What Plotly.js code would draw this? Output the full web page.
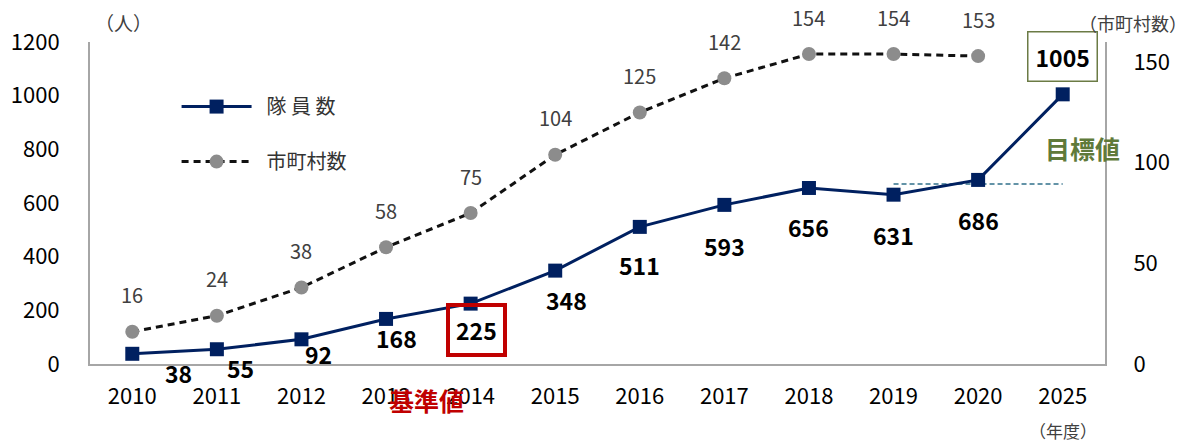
<!DOCTYPE html>
<html><head><meta charset="utf-8">
<script src="https://cdn.plot.ly/plotly-3.0.1.min.js"></script>
<style>body{margin:0;background:#fff}#c{width:1188px;height:442px}</style>
</head><body><div id="c"></div>
<script>
const years = ['2010','2011','2012','2013','2014','2015','2016','2017','2018','2019','2020','2025'];
const members = [38, 55, 92, 168, 225, 348, 511, 593, 656, 631, 686, 1005];
const municipalities = [16, 24, 38, 58, 75, 104, 125, 142, 154, 154, 153, null];
const targetLineValue = 671;

const memberShiftX = [46, 24, 17, 10, 6, 11, 0, 0, 0, 0, 0, 0];
const memberShiftY = [-19, -19, -15, -19, -26, -29, -38, -41, -39, -40, -40, 38];

const FONT = '"Noto Sans CJK JP", "Noto Sans", sans-serif';
const navy = '#002060';
const idx = y => years.indexOf(y);

const traces = [
  {x: years, y: members, type: 'scatter', mode: 'lines+markers', name: '隊 員 数', legendgroup: 'a',
   line: {color: navy, width: 3}, marker: {symbol: 'square', size: 14, color: navy}, yaxis: 'y'},
  {x: years, y: municipalities, type: 'scatter', mode: 'lines+markers', name: '市町村数', legendgroup: 'b',
   line: {color: '#111', width: 3, dash: '7px,5px'}, marker: {symbol: 'circle', size: 14, color: '#8c8c8c'}, yaxis: 'y2'}
];

const ann = [];
members.forEach((v, i) => {
  const a = {x: i, y: v, xref: 'x', yref: 'y', text: '<b>' + v + '</b>', showarrow: false,
    xshift: memberShiftX[i], yshift: memberShiftY[i], font: {family: FONT, size: 23, color: '#000'}};
  if (i === 4) { a.bordercolor = '#c00000'; a.borderwidth = 4; a.borderpad = 6; }
  if (i === 11) { a.bordercolor = '#6b7b45'; a.borderwidth = 1.5; a.borderpad = 7; }
  ann.push(a);
});
municipalities.forEach((v, i) => {
  if (v === null) return;
  ann.push({x: i, y: v, xref: 'x', yref: 'y2', text: String(v), showarrow: false, yshift: 37,
    font: {family: FONT, size: 20, color: '#404040'}});
});
ann.push({xref: 'paper', yref: 'paper', x: 0.027, xshift: -24, y: 1.0, yanchor: 'bottom', yshift: 4, text: '（人）', showarrow: false,
  font: {family: FONT, size: 19, color: '#404040'}});
ann.push({xref: 'paper', yref: 'paper', x: 1.0, xanchor: 'left', xshift: -28, y: 1.0, yanchor: 'bottom', yshift: 4, text: '（市町村数）', showarrow: false,
  font: {family: FONT, size: 18, color: '#404040'}});
ann.push({xref: 'x', yref: 'paper', x: idx('2025'), y: 0, yanchor: 'top', yshift: -52, text: '（年度）', showarrow: false,
  font: {family: FONT, size: 17, color: '#404040'}});
ann.push({xref: 'x', yref: 'paper', x: idx('2013'), xshift: 40, y: 0, yanchor: 'top', yshift: -16, text: '<b>基準値</b>', showarrow: false,
  font: {family: FONT, size: 25, color: '#c00000'}});
ann.push({xref: 'x', yref: 'y', x: idx('2025'), xshift: 20, y: 805, text: '<b>目標値</b>', showarrow: false,
  font: {family: FONT, size: 25, color: '#5f7a3a'}});

const layout = {
  width: 1188, height: 442,
  margin: {l: 90, r: 83, t: 42, b: 78},
  paper_bgcolor: '#fff', plot_bgcolor: '#fff',
  font: {family: FONT, size: 20, color: '#000'},
  showlegend: true,
  legend: {x: 0.105, y: 0.86, xanchor: 'left', yanchor: 'top', font: {family: FONT, size: 20, color: '#333'},
    tracegroupgap: 26, traceorder: 'grouped', bgcolor: 'rgba(0,0,0,0)'},
  xaxis: {type: 'category', categoryarray: years, categoryorder: 'array', range: [-0.5, 11.5], showline: true, linecolor: '#a6a6a6', linewidth: 2, showgrid: false, ticks: '',
    tickfont: {family: FONT, size: 22, color: '#000'}, zeroline: false, fixedrange: true, ticklabelstandoff: 12},
  yaxis: {range: [0, 1200], tickvals: [0,200,400,600,800,1000,1200], showline: true, linecolor: '#a6a6a6', linewidth: 2,
    showgrid: false, zeroline: false, ticks: '', ticklen: 0, tickfont: {family: FONT, size: 22, color: '#000'}, ticklabelstandoff: 24},
  yaxis2: {range: [0, 160], tickvals: [0,50,100,150], overlaying: 'y', side: 'right', showline: true, linecolor: '#a6a6a6', linewidth: 2,
    showgrid: false, zeroline: false, ticks: '', tickfont: {family: FONT, size: 22, color: '#000'}, ticklabelstandoff: 22},
  shapes: [{type: 'line', xref: 'x', yref: 'y', x0: idx('2019'), x1: idx('2025'), y0: targetLineValue, y1: targetLineValue,
    line: {color: '#31708a', width: 1.5, dash: '5px,3px'}, layer: 'below'}],
  annotations: ann
};
Plotly.newPlot('c', traces, layout, {displayModeBar: false, staticPlot: true}).then(gd => {
  // lengthen the legend line samples as in the reference
  gd.querySelectorAll('.legend .traces').forEach(g => {
    g.querySelectorAll('path.js-line').forEach(p => p.setAttribute('d', 'M-15,0h70'));
    const t = g.querySelector('text.legendtext');
    if (t) t.setAttribute('x', String(parseFloat(t.getAttribute('x') || '40') + 30));
  });
  gd.querySelectorAll('.legend [clip-path]').forEach(el => el.removeAttribute('clip-path'));
});
</script></body></html>
